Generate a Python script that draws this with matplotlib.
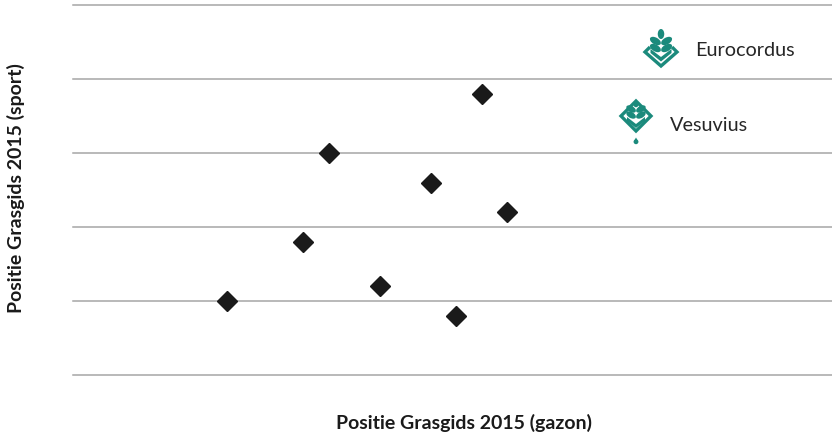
import matplotlib
matplotlib.use("Agg")
import matplotlib.pyplot as plt
from matplotlib.patches import Polygon, Ellipse

# Data
gazon = [6, 9, 10, 12, 14, 15, 16, 17]
sport = [5, 9, 15, 6, 13, 4, 19, 11]
y_ticks = [0, 5, 10, 15, 20, 25]
legend_names = ["Eurocordus", "Vesuvius"]
x_label = "Positie Grasgids 2015 (gazon)"
y_label = "Positie Grasgids 2015 (sport)"

W, H = 832, 437
fig = plt.figure(figsize=(W / 100, H / 100), dpi=100)
ax = fig.add_axes([73 / W, 1 - 375 / H, 1 - 73 / W, (375 - 5) / H])
ax.set_xlim(-0.05, 29.77)
ax.set_ylim(0, 25)
ax.set_yticks(y_ticks)
ax.set_xticks([])
ax.tick_params(left=False, labelleft=False, bottom=False, labelbottom=False)
for s in ax.spines.values():
    s.set_visible(False)
for y in y_ticks:
    ax.axhline(y, color="#a6a6a6", linewidth=1.1, zorder=0, clip_on=False)

ax.plot(gazon, sport, linestyle="none", marker="D", markersize=10,
        color="#1a1a1a", zorder=3)

fig.text(464 / W, 1 - 423 / H, x_label, ha="center", va="center",
         fontsize=14, fontweight="bold", family=["Lato", "DejaVu Sans"],
         color="#1a1a1a")
fig.text(16 / W, 1 - 188 / H, y_label, ha="center", va="center",
         rotation=90, fontsize=14, fontweight="bold",
         family=["Lato", "DejaVu Sans"], color="#1a1a1a")

# Overlay in pixel coordinates for icons
ov = fig.add_axes([0, 0, 1, 1])
ov.set_xlim(0, W)
ov.set_ylim(H, 0)
ov.axis("off")
teal = "#1b8a7c"


def poly(cx, cy, pts, closed=True, fill=True, lw=0):
    P = [(cx + dx, cy + dy) for dx, dy in pts]
    if fill:
        ov.add_patch(Polygon(P, closed=closed, facecolor=teal,
                             edgecolor="none"))
    else:
        ov.add_patch(Polygon(P, closed=closed, fill=False, edgecolor=teal,
                             linewidth=lw, joinstyle="miter"))


def leaf(cx, cy, dx, dy, w, h, ang):
    ov.add_patch(Ellipse((cx + dx, cy + dy), w, h, angle=ang,
                         facecolor=teal, edgecolor="none"))


# Eurocordus icon
cx, cy = 661, 52
poly(cx, cy, [(-11, -5), (-16, 0), (0, 14), (16, 0), (11, -5)],
     closed=False, fill=False, lw=2.4)
poly(cx, cy, [(-10.5, -3), (0, 5), (10.5, -3), (10.5, 1), (0, 9.5),
              (-10.5, 1)])
for dy in (-11, -4):
    leaf(cx, cy, -5.6, dy, 12, 6.8, 30)
    leaf(cx, cy, 5.6, dy, 12, 6.8, -30)
leaf(cx, cy, 0, -18, 6.5, 10, 0)

# Vesuvius icon
cx, cy = 636, 116
poly(cx, cy, [(0, -15), (15, 0), (0, 15), (-15, 0)],
     closed=True, fill=False, lw=2.4)
poly(cx, cy, [(-9, 1), (0, 8), (9, 1), (9, 5), (0, 12), (-9, 5)])
for dy in (-7, -1):
    leaf(cx, cy, -4.9, dy, 10.5, 6, 30)
    leaf(cx, cy, 4.9, dy, 10.5, 6, -30)
leaf(cx, cy, 0, -11.5, 5, 5.5, 0)
poly(cx, cy, [(0, 21.5), (-2.3, 25.5), (2.3, 25.5)])
leaf(cx, cy, 0, 25.8, 4.8, 4.8, 0)

fig.text(695 / W, 1 - 50 / H, legend_names[0], ha="left", va="center",
         fontsize=14.3, family=["Lato", "DejaVu Sans"], color="#262626")
fig.text(670 / W, 1 - 125 / H, legend_names[1], ha="left", va="center",
         fontsize=14.3, family=["Lato", "DejaVu Sans"], color="#262626")

fig.savefig("out.png", dpi=100)
